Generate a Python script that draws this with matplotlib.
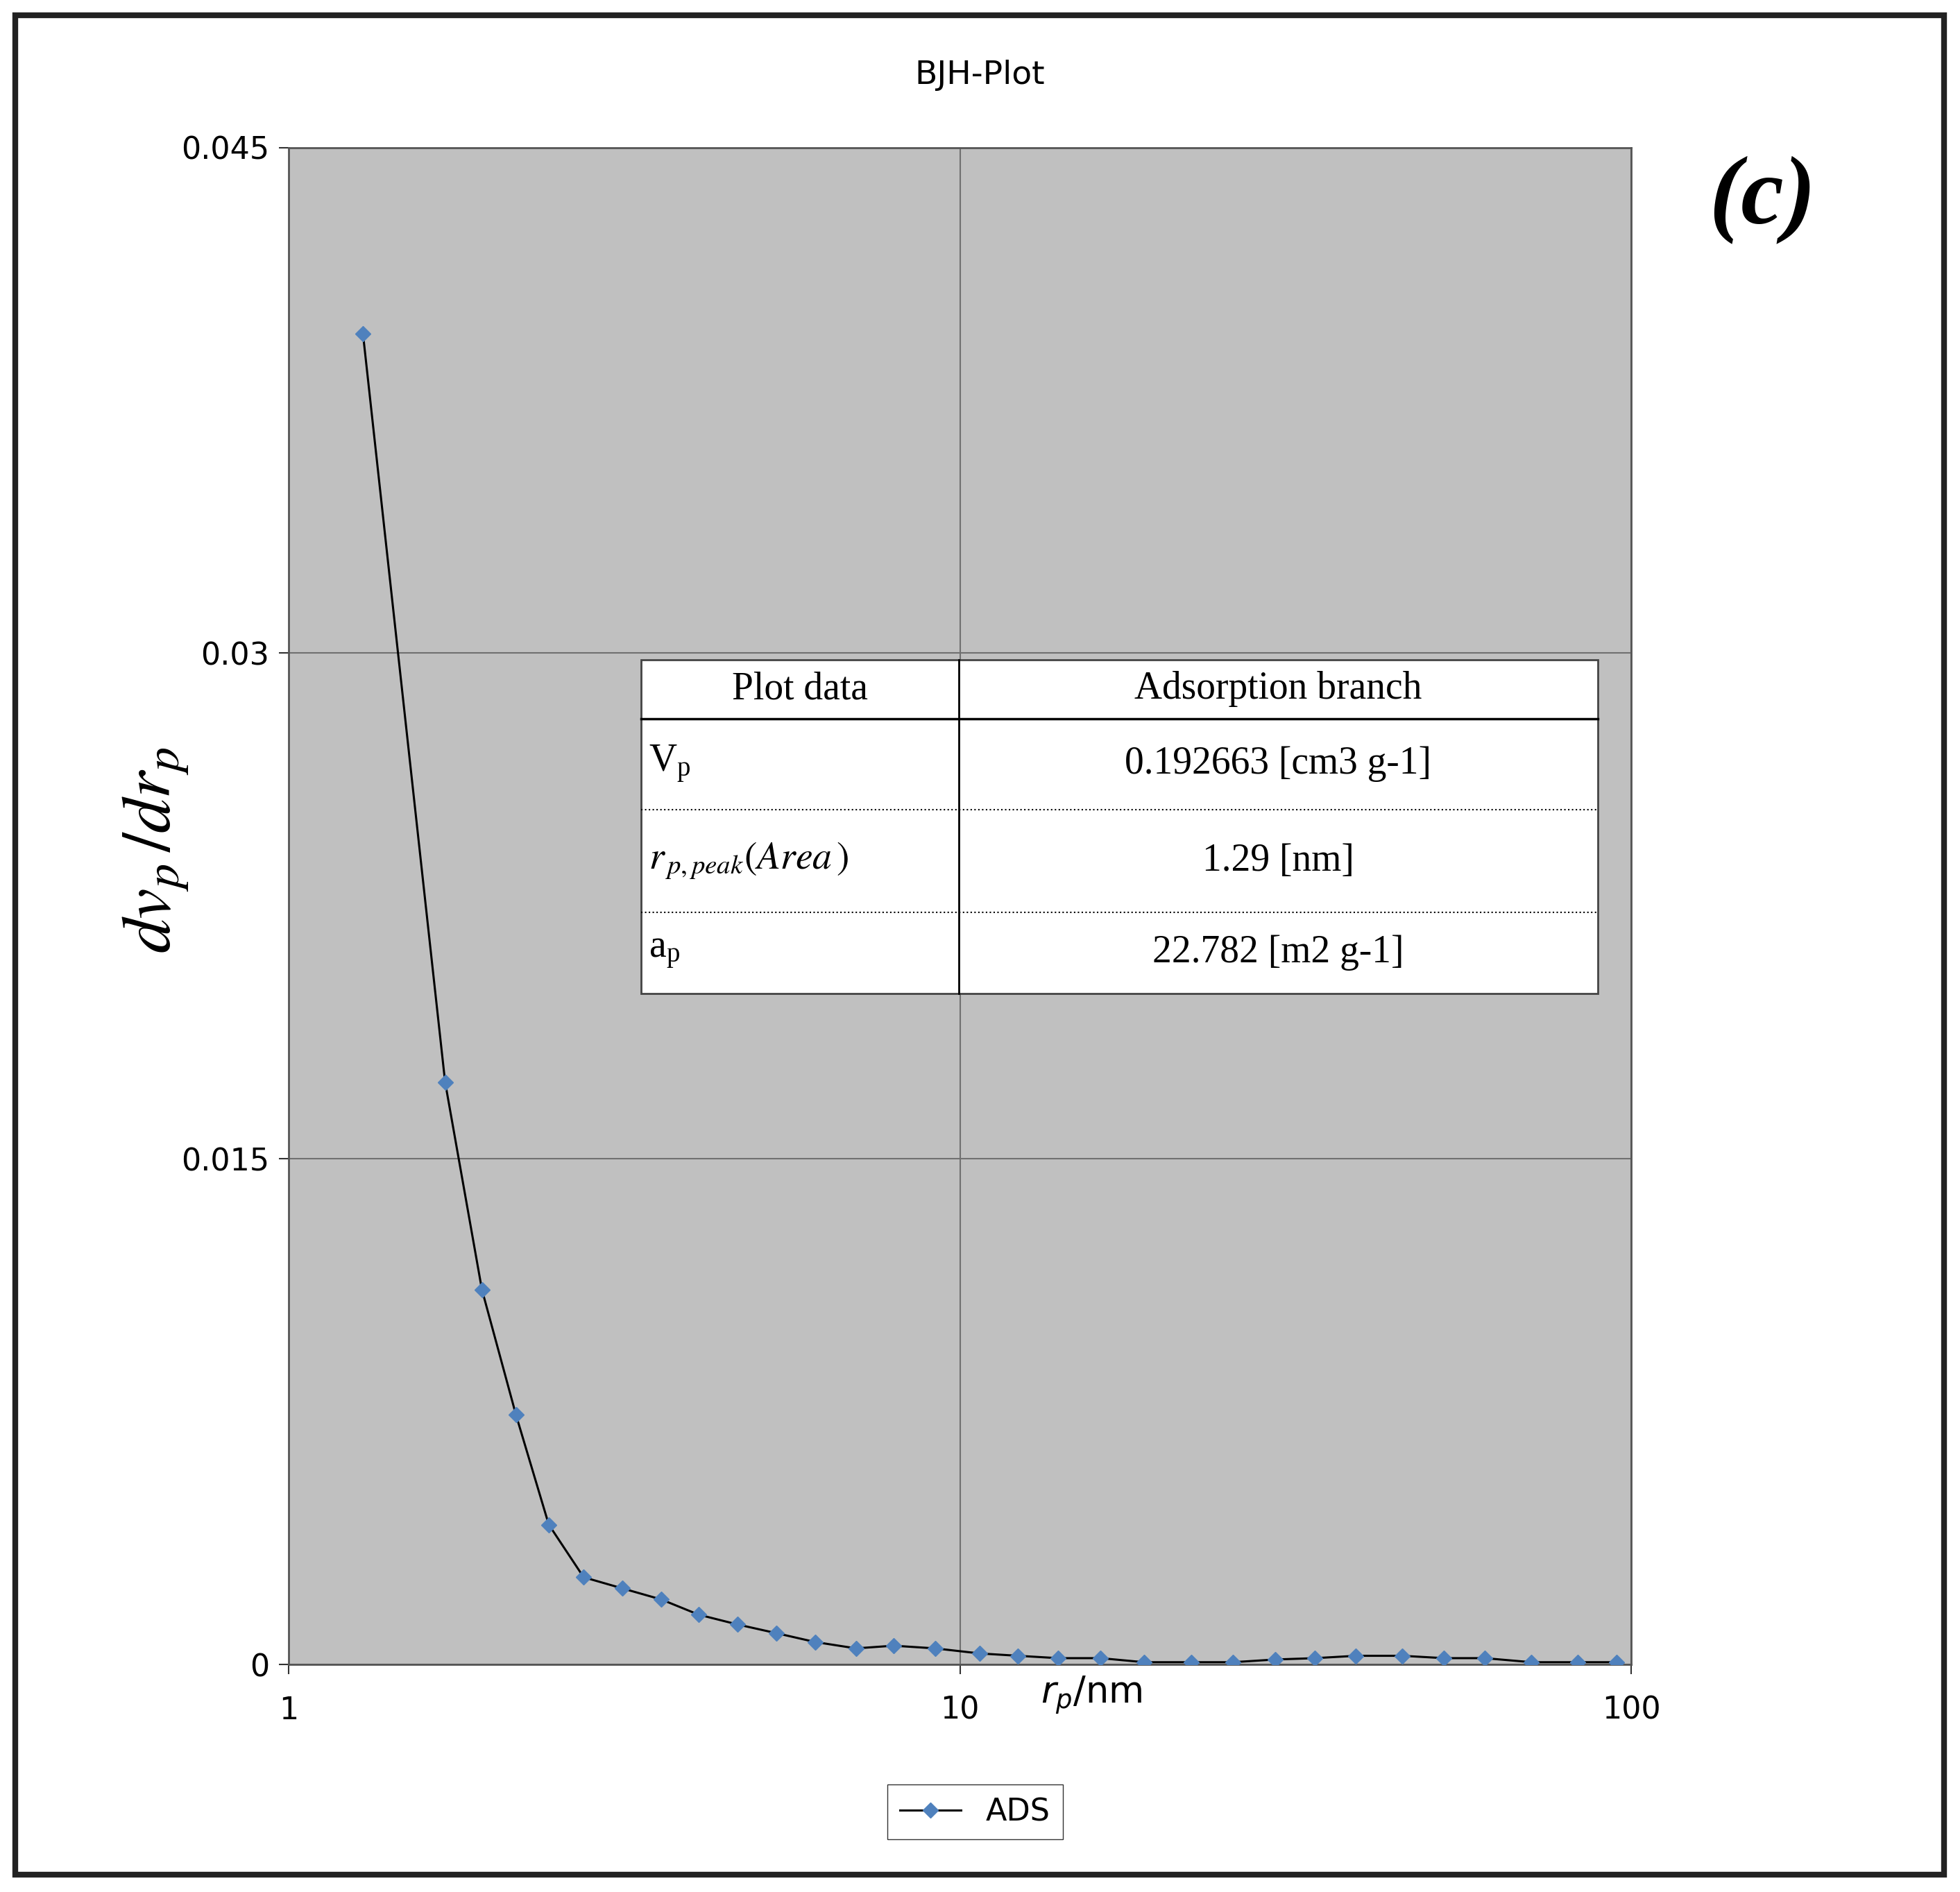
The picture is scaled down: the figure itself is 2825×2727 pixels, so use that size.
import matplotlib
matplotlib.use("Agg")
from matplotlib import pyplot as plt
from matplotlib.patches import Rectangle
from matplotlib.lines import Line2D

# pore radius (nm) and dVp/drp
r_p = [1.29, 1.71, 1.94, 2.18, 2.44, 2.75, 3.14, 3.59, 4.08, 4.66, 5.33,
       6.08, 7.0, 7.96, 9.18, 10.7, 12.2, 14.0, 16.2, 18.8, 22.1, 25.5,
       29.5, 33.8, 38.9, 45.6, 52.6, 60.5, 71.0, 83.2, 95.0]
dv_dr = [0.03947, 0.01727, 0.01112, 0.00741, 0.00415, 0.00259, 0.00226,
         0.00193, 0.00148, 0.00119, 0.00093, 0.00067, 0.00048, 0.00056,
         0.00048, 0.00033, 0.00026, 0.00019, 0.00019, 0.00007, 0.00007,
         0.00007, 0.00015, 0.00019, 0.00026, 0.00026, 0.00019, 0.00019,
         0.00007, 0.00007, 0.00007]
y_ticks = [0, 0.015, 0.03, 0.045]
y_labels = ["0", "0.015", "0.03", "0.045"]
table_rows = [("Plot data", "Adsorption branch"),
              (r"V$_\mathregular{p}$", "0.192663 [cm3 g-1]"),
              (r"$r_{\,p,peak}(Area\,)$", "1.29 [nm]"),
              (r"a$_\mathregular{p}$", "22.782 [m2 g-1]")]

W, H = 1568, 1514  # reference pixel frame used for layout
fig = plt.figure(figsize=(28.25, 27.27), dpi=100)
fig.patches.append(Rectangle((12 / W, 1 - 1500 / H), 1543 / W, 1488 / H,
                             transform=fig.transFigure, fill=False,
                             lw=6, ec="#222222"))

ax = fig.add_axes([231 / W, 1 - 1332 / H, (1305 - 231) / W, (1332 - 118) / H])
ax.set_facecolor("#c0c0c0")
ax.plot(r_p, dv_dr, color="black", lw=2.2, marker="D", ms=11,
        mfc="#4f81bd", mec="#4f81bd", zorder=3)
ax.set_xscale("log")
ax.set_xlim(1, 100)
ax.set_ylim(0, 0.045)
ax.set_xticks([1, 10, 100])
ax.set_xticklabels(["1", "10", "100"])
ax.xaxis.set_minor_locator(matplotlib.ticker.NullLocator())
ax.set_yticks(y_ticks)
ax.set_yticklabels(y_labels)
ax.tick_params(labelsize=32, length=10, width=1.5, colors="#333333",
               labelcolor="black", pad=10)
ax.tick_params(axis="x", pad=22)
ax.grid(True, color="#707070", lw=1.5)
for s in ax.spines.values():
    s.set_color("#555555")
    s.set_linewidth(2)

fig.text(0.5, 1 - 60 / H, "BJH-Plot", ha="center", va="center", fontsize=34)
fig.text(1410 / W, 1 - 160 / H, "(c)", ha="center", va="center",
         fontsize=100, fontweight="bold", style="italic",
         family="Liberation Serif")
fig.text(125 / W, 1 - 680 / H, r"$\mathbf{\mathit{dv_p\,/dr_p}}$",
         rotation=90, ha="center", va="center", fontsize=72,
         math_fontfamily="stix")
fig.text(873 / W, 1 - 1357 / H, r"$r_p$/nm", ha="center", va="center",
         fontsize=38)

# inset table
x0, x1, xm = 513 / W, 1278 / W, 767 / W
ys = [528, 575, 648, 730, 795]
fig.patches.append(Rectangle((x0, 1 - ys[-1] / H), x1 - x0, (ys[-1] - ys[0]) / H,
                             transform=fig.transFigure, fc="white",
                             ec="#444444", lw=2, zorder=5))
fig.add_artist(Line2D([xm, xm], [1 - ys[0] / H, 1 - ys[-1] / H],
                      color="black", lw=2, zorder=6))
for i, y in enumerate(ys[1:-1]):
    fig.add_artist(Line2D([x0, x1], [1 - y / H] * 2, color="black",
                          lw=2.5 if i == 0 else 1.5,
                          ls="-" if i == 0 else ":", zorder=6))
for i, (a, b) in enumerate(table_rows):
    yc = 1 - (ys[i] + ys[i + 1]) / 2 / H
    if i == 0:
        fig.text((x0 + xm) / 2, yc, a, ha="center", va="center", fontsize=40,
                 family="Liberation Serif", zorder=7)
    else:
        fig.text(x0 + 6 / W, yc, a, ha="left", va="center", fontsize=40,
                 family="Liberation Serif", math_fontfamily="stix", zorder=7)
    fig.text((xm + x1) / 2, yc, b, ha="center", va="center", fontsize=40,
             family="Liberation Serif", zorder=7)

h = [Line2D([], [], color="black", lw=2.2, marker="D", ms=11,
            mfc="#4f81bd", mec="#4f81bd")]
fig.legend(h, ["ADS"], loc="center", bbox_to_anchor=(780 / W, 1 - 1450 / H),
           fontsize=32, frameon=True, fancybox=False, edgecolor="black",
           handlelength=2)

fig.savefig("out.png", dpi=100)
